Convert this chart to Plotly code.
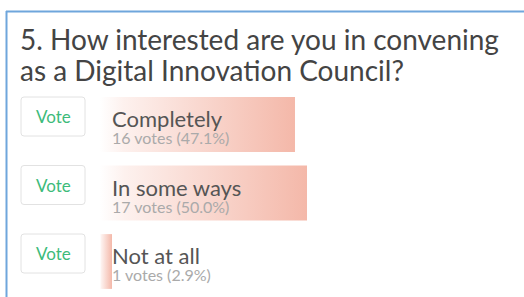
import plotly.graph_objects as go

# ---- data ----
title_lines = ["5. How interested are you in convening", "as a Digital Innovation Council?"]
options = ["Completely", "In some ways", "Not at all"]
votes = [16, 17, 1]
percents = [47.1, 50.0, 2.9]
button_label = "Vote"

W, H = 524, 297
FONT = "Lato, 'Open Sans', sans-serif"

# pixel -> paper helpers (for decorative UI chrome only)
def px(x):
    return x / W

def py(y):
    return 1 - y / H

# axis calibration: 0% at x=100px, 4.14 px per percent
X0, SCALE = 100.0, 4.14
x_range = [(0 - X0) / SCALE, (W - X0) / SCALE]
Y0, STEP = 124.5, 68.5
y_range = [(H - Y0) / STEP, (0 - Y0) / STEP]
BAR_H = 0.80

fig = go.Figure()

for i, (name, p) in enumerate(zip(options, percents)):
    fig.add_trace(go.Scatter(
        x=[0, p, p, 0, 0],
        y=[i - BAR_H / 2, i - BAR_H / 2, i + BAR_H / 2, i + BAR_H / 2, i - BAR_H / 2],
        mode="lines",
        line=dict(width=0),
        fill="toself",
        fillgradient=dict(
            type="horizontal",
            colorscale=[[0, "rgba(255,255,255,1)"], [0.12, "#fdf1ee"], [1, "#f4b8a9"]],
        ),
        hoverinfo="skip",
        showlegend=False,
        name=name,
    ))

annotations = []
shapes = []

# title (centres chosen so baselines sit at ~47px and ~78px)
for line, centre in zip(title_lines, [38.5, 69.5]):
    annotations.append(dict(x=px(18), y=py(centre), xref="paper", yref="paper", text=line,
                            showarrow=False, xanchor="left", yanchor="middle",
                            font=dict(family=FONT, size=28, color="#444444")))

for i, (name, v, p) in enumerate(zip(options, votes, percents)):
    top = Y0 + STEP * i - 27.5
    # vote button (rounded box)
    x1, x2, y1, y2, r = 21, 85, top, top + 39, 3
    path = (f"M {px(x1+r)},{py(y1)} L {px(x2-r)},{py(y1)} Q {px(x2)},{py(y1)} {px(x2)},{py(y1+r)} "
            f"L {px(x2)},{py(y2-r)} Q {px(x2)},{py(y2)} {px(x2-r)},{py(y2)} "
            f"L {px(x1+r)},{py(y2)} Q {px(x1)},{py(y2)} {px(x1)},{py(y2-r)} "
            f"L {px(x1)},{py(y1+r)} Q {px(x1)},{py(y1)} {px(x1+r)},{py(y1)} Z")
    shapes.append(dict(type="path", path=path, xref="paper", yref="paper",
                       line=dict(color="#e2e2e2", width=1), fillcolor="white", layer="above"))
    annotations.append(dict(x=px(53), y=py(top + 19.5), xref="paper", yref="paper",
                            text=button_label, showarrow=False, xanchor="center", yanchor="middle",
                            font=dict(family=FONT, size=17, color="#3dbb7a")))
    # option label and vote count
    annotations.append(dict(x=0, y=i, xref="x", yref="y", xshift=10, yshift=6,
                            text=name, showarrow=False, xanchor="left", yanchor="middle",
                            font=dict(family=FONT, size=22, color="#555555")))
    annotations.append(dict(x=0, y=i, xref="x", yref="y", xshift=10, yshift=-13,
                            text=f"{v} votes ({p:.1f}%)", showarrow=False, xanchor="left", yanchor="middle",
                            font=dict(family=FONT, size=16, color="#aaaaaa")))

# blue panel border (top and left)
shapes.append(dict(type="line", xref="paper", yref="paper", x0=px(6), x1=1, y0=py(11.5), y1=py(11.5),
                   line=dict(color="#6fa6dc", width=2)))
shapes.append(dict(type="line", xref="paper", yref="paper", x0=px(6.5), x1=px(6.5), y0=py(11), y1=0,
                   line=dict(color="#6fa6dc", width=2)))

fig.update_layout(
    width=W, height=H, autosize=False,
    margin=dict(l=0, r=0, t=0, b=0),
    paper_bgcolor="white", plot_bgcolor="white",
    xaxis=dict(range=x_range, visible=False, fixedrange=True),
    yaxis=dict(range=y_range, visible=False, fixedrange=True),
    annotations=annotations, shapes=shapes,
    showlegend=False,
)

fig.write_html("out.html", config={"displayModeBar": False},
               post_script="document.body.style.margin='0';document.body.style.overflow='hidden';")
